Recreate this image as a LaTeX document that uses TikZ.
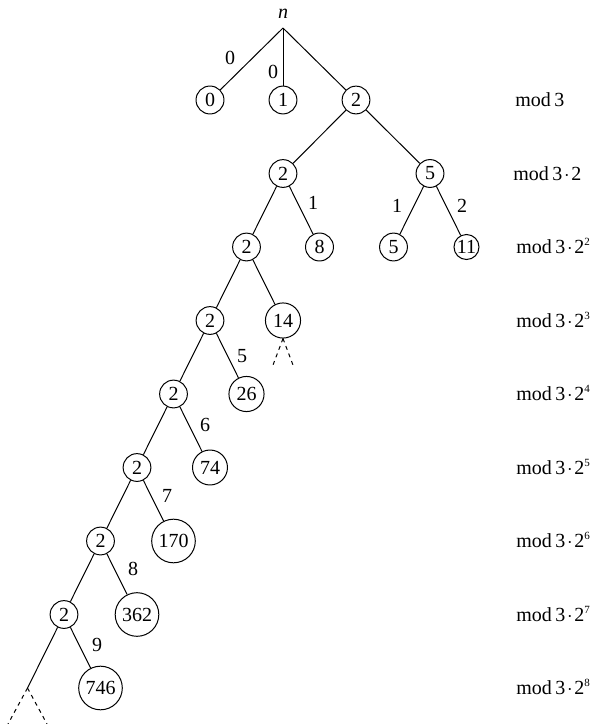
\documentclass[tikz,border=0pt]{standalone}
\usepackage{fontspec}
\setmainfont{Liberation Serif}
\newcommand{\modlbl}[1]{mod\,3\kern0.9pt$\cdot$\kern0.9pt2\raisebox{0.85ex}{\fontsize{5.5}{6}\selectfont #1}}
\begin{document}
\begin{tikzpicture}[x=0.5pt,y=-0.5pt,
  every node/.style={font=\fontsize{10}{12}\selectfont},
  nd/.style={circle,draw,line width=0.5pt,inner sep=2pt,minimum size=12.5pt},
  edge/.style={line width=0.5pt},
  stub/.style={line width=0.5pt,dash pattern=on 2pt off 2pt},
  lvl/.style={anchor=base west,inner sep=0pt}]
\useasboundingbox (0,0) rectangle (600,724);

% root
\node (nlab) at (283,14) {\textit{n}};
\coordinate (root) at (283,28);

% level 1
\node[nd] (a0) at (210,100) {0};
\node[nd] (a1) at (283,100) {1};
\node[nd] (a2) at (356,100) {2};

% level 2
\node[nd] (b2) at (283,173.5) {2};
\node[nd] (b5) at (430,173.5) {5};

% level 3
\node[nd] (c2) at (246.5,247) {2};
\node[nd] (c8) at (319.5,247) {8};
\node[nd] (c5) at (393.5,247) {5};
\node[nd,inner sep=0.3pt] (c11) at (466.5,247) {11};

% level 4
\node[nd] (d2) at (210,320.5) {2};
\node[nd] (d14) at (283,320.5) {14};

% level 5
\node[nd] (e2) at (173.5,394) {2};
\node[nd] (e26) at (246.5,394) {26};

% level 6
\node[nd] (f2) at (137,467.5) {2};
\node[nd] (f74) at (210,467.5) {74};

% level 7
\node[nd] (g2) at (100.5,541) {2};
\node[nd] (g170) at (173.5,541) {170};

% level 8
\node[nd] (h2) at (64,614.5) {2};
\node[nd] (h362) at (137,614.5) {362};

% level 9
\coordinate (iapex) at (27.5,688);
\node[nd] (i746) at (100.5,688) {746};

% connectors
\draw[edge] (root) -- (a0);
\draw[edge] (root) -- (a1);
\draw[edge] (root) -- (a2);
\draw[edge] (a2) -- (b2);
\draw[edge] (a2) -- (b5);
\draw[edge] (b2) -- (c2);
\draw[edge] (b2) -- (c8);
\draw[edge] (b5) -- (c5);
\draw[edge] (b5) -- (c11);
\draw[edge] (c2) -- (d2);
\draw[edge] (c2) -- (d14);
\draw[edge] (d2) -- (e2);
\draw[edge] (d2) -- (e26);
\draw[edge] (e2) -- (f2);
\draw[edge] (e2) -- (f74);
\draw[edge] (f2) -- (g2);
\draw[edge] (f2) -- (g170);
\draw[edge] (g2) -- (h2);
\draw[edge] (g2) -- (h362);
\draw[edge] (h2) -- (iapex);
\draw[edge] (h2) -- (i746);

% unexpanded subtrees
\coordinate (s14l) at (273,365);
\coordinate (s14r) at (293,365);
\draw[stub] (d14.south) -- (s14l);
\draw[stub] (d14.south) -- (s14r);
\coordinate (sil) at (8,724);
\coordinate (sir) at (47,724);
\draw[stub] (iapex) -- (sil);
\draw[stub] (iapex) -- (sir);

% edge labels
\node (l1) at (230,58) {0};
\node (l2) at (273,72) {0};
\node (l3) at (313,203) {1};
\node (l4) at (397,206) {1};
\node (l5) at (462,206) {2};
\node (l6) at (242,356) {5};
\node (l7) at (205,425) {6};
\node (l8) at (167,496) {7};
\node (l9) at (133,569) {8};
\node (l10) at (97,645) {9};

% moduli per level
\node[lvl] (m1) at (515,106.5) {mod\,3};
\node[lvl] (m2) at (513,180) {mod\,3\kern0.9pt$\cdot$\kern0.9pt2};
\node[lvl] (m3) at (516,253.5) {\modlbl{2}};
\node[lvl] (m4) at (516,327) {\modlbl{3}};
\node[lvl] (m5) at (516,400.5) {\modlbl{4}};
\node[lvl] (m6) at (516,474) {\modlbl{5}};
\node[lvl] (m7) at (516,547.5) {\modlbl{6}};
\node[lvl] (m8) at (516,621) {\modlbl{7}};
\node[lvl] (m9) at (516,694.5) {\modlbl{8}};
\end{tikzpicture}
\end{document}
